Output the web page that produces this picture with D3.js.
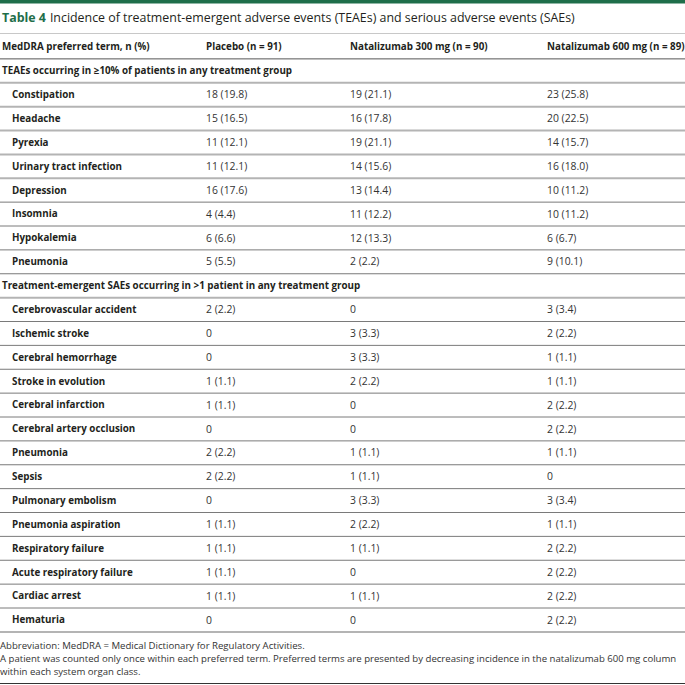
<!DOCTYPE html>
<html>
<head>
<meta charset="utf-8">
<script src="https://cdn.jsdelivr.net/npm/d3@7"></script>
<style>
  body { margin: 0; background: #fff; }
  svg text { font-family: "Open Sans", "Noto Sans", sans-serif; fill: #231f20; }
  .title-num { font-weight: bold; fill: #1f6e4a; }
  .hdr, .section, .term { font-weight: 700; }
  .val { fill: #333; }
  .note { fill: #333; }
</style>
</head>
<body>
<script>
/* table content */
var title = "Incidence of treatment-emergent adverse events (TEAEs) and serious adverse events (SAEs)"
var columns = ["MedDRA preferred term, n (%)", "Placebo (n = 91)", "Natalizumab 300 mg (n = 90)", "Natalizumab 600 mg (n = 89)"]

var section1 = "TEAEs occurring in \u226510% of patients in any treatment group"
var teaeTerms = ["Constipation", "Headache", "Pyrexia", "Urinary tract infection",
                 "Depression", "Insomnia", "Hypokalemia", "Pneumonia"]
var teaePlacebo = ["18 (19.8)", "15 (16.5)", "11 (12.1)", "11 (12.1)", "16 (17.6)", "4 (4.4)", "6 (6.6)", "5 (5.5)"]
var teae300 = ["19 (21.1)", "16 (17.8)", "19 (21.1)", "14 (15.6)", "13 (14.4)", "11 (12.2)", "12 (13.3)", "2 (2.2)"]
var teae600 = ["23 (25.8)", "20 (22.5)", "14 (15.7)", "16 (18.0)", "10 (11.2)", "10 (11.2)", "6 (6.7)", "9 (10.1)"]

var section2 = "Treatment-emergent SAEs occurring in >1 patient in any treatment group"
var saeTerms = ["Cerebrovascular accident", "Ischemic stroke", "Cerebral hemorrhage", "Stroke in evolution",
                "Cerebral infarction", "Cerebral artery occlusion", "Pneumonia", "Sepsis",
                "Pulmonary embolism", "Pneumonia aspiration", "Respiratory failure",
                "Acute respiratory failure", "Cardiac arrest", "Hematuria"]
var saePlacebo = ["2 (2.2)", "0", "0", "1 (1.1)", "1 (1.1)", "0", "2 (2.2)", "2 (2.2)", "0", "1 (1.1)", "1 (1.1)", "1 (1.1)", "1 (1.1)", "0"]
var sae300 = ["0", "3 (3.3)", "3 (3.3)", "2 (2.2)", "0", "0", "1 (1.1)", "1 (1.1)", "3 (3.3)", "2 (2.2)", "1 (1.1)", "0", "1 (1.1)", "0"]
var sae600 = ["3 (3.4)", "2 (2.2)", "1 (1.1)", "1 (1.1)", "2 (2.2)", "2 (2.2)", "1 (1.1)", "0", "3 (3.4)", "1 (1.1)", "2 (2.2)", "2 (2.2)", "2 (2.2)", "2 (2.2)"]

var footnotes = ["Abbreviation: MedDRA = Medical Dictionary for Regulatory Activities.",
                 "A patient was counted only once within each preferred term. Preferred terms are presented by decreasing incidence in the natalizumab 600 mg column",
                 "within each system organ class."]

var W = 685, H = 685

/* build the row list: header, section, rows, section, rows */
var rows = []
rows.push({type: "hdr", cells: columns})
rows.push({type: "section", cells: [section1]})
teaeTerms.forEach(function(t, i) {
  rows.push({type: "row", cells: [t, teaePlacebo[i], teae300[i], teae600[i]]})
})
rows.push({type: "section", cells: [section2]})
saeTerms.forEach(function(t, i) {
  rows.push({type: "row", cells: [t, saePlacebo[i], sae300[i], sae600[i]]})
})

var y = d3.scaleBand()
  .domain(d3.range(rows.length))
  .range([35, 35 + 23.875 * rows.length])

var x = d3.scaleOrdinal()
  .domain([0, 1, 2, 3])
  .range([2, 206, 350, 547])

var svg = d3.select("body").append("svg")
  .attr("width", W)
  .attr("height", H)

/* green bar on top */
svg.append("rect")
  .attr("x", 0).attr("y", 0)
  .attr("width", W).attr("height", 3.5)
  .attr("fill", "#1f6e4a")

var t = svg.append("text")
  .attr("x", 2).attr("y", 22)
  .style("font-size", "12.4px")
t.append("tspan").attr("class", "title-num").text("Table 4")
t.append("tspan").attr("dx", 4).text(title)

svg.append("line")
  .attr("x1", 0).attr("x2", W)
  .attr("y1", 33.5).attr("y2", 33.5)
  .attr("stroke", "#c8c8c8").attr("stroke-width", 1)

var g = svg.selectAll("g.row")
  .data(rows)
  .enter()
  .append("g")
  .attr("class", "row")
  .attr("transform", function(d, i) { return "translate(0," + y(i) + ")" })

g.selectAll("text")
  .data(function(d) { return d.cells.map(function(c) { return {text: c, type: d.type} }) })
  .enter()
  .append("text")
  .attr("class", function(d, i) {
    if (d.type == "hdr") return "hdr"
    if (d.type == "section") return "section"
    return i == 0 ? "term" : "val"
  })
  .attr("x", function(d, i) { return (d.type == "row" && i == 0) ? 12 : x(i) })
  .attr("y", y.bandwidth() / 2)
  .attr("dy", "0.35em")
  .style("font-size", function(d, i) { return (d.type == "row" && i > 0) ? "10.4px" : "9.8px" })
  .text(function(d) { return d.text })

/* separators under each row */
g.append("line")
  .attr("x1", 0).attr("x2", W)
  .attr("y1", y.bandwidth()).attr("y2", y.bandwidth())
  .attr("stroke", function(d, i) {
    if (i == 0) return "#555"
    if (i == rows.length - 1) return "#b4b4b4"
    return d.type == "section" || i < 6 ? "#b4b4b4" : "#7a7a7a"
  })
  .attr("stroke-width", function(d, i) {
    if (i == 0) return 1
    if (i == rows.length - 1) return 2
    return d.type == "section" || i < 6 ? 2 : 1
  })

var noteTop = y(rows.length - 1) + y.bandwidth()
svg.selectAll("text.note")
  .data(footnotes)
  .enter()
  .append("text")
  .attr("class", "note")
  .attr("x", 0)
  .attr("y", function(d, i) { return noteTop + 17 + i * 13 })
  .style("font-size", "9.6px")
  .text(function(d) { return d })

svg.append("line")
  .attr("x1", 0).attr("x2", W)
  .attr("y1", 683.5).attr("y2", 683.5)
  .attr("stroke", "#333").attr("stroke-width", 1)
</script>
</body>
</html>
